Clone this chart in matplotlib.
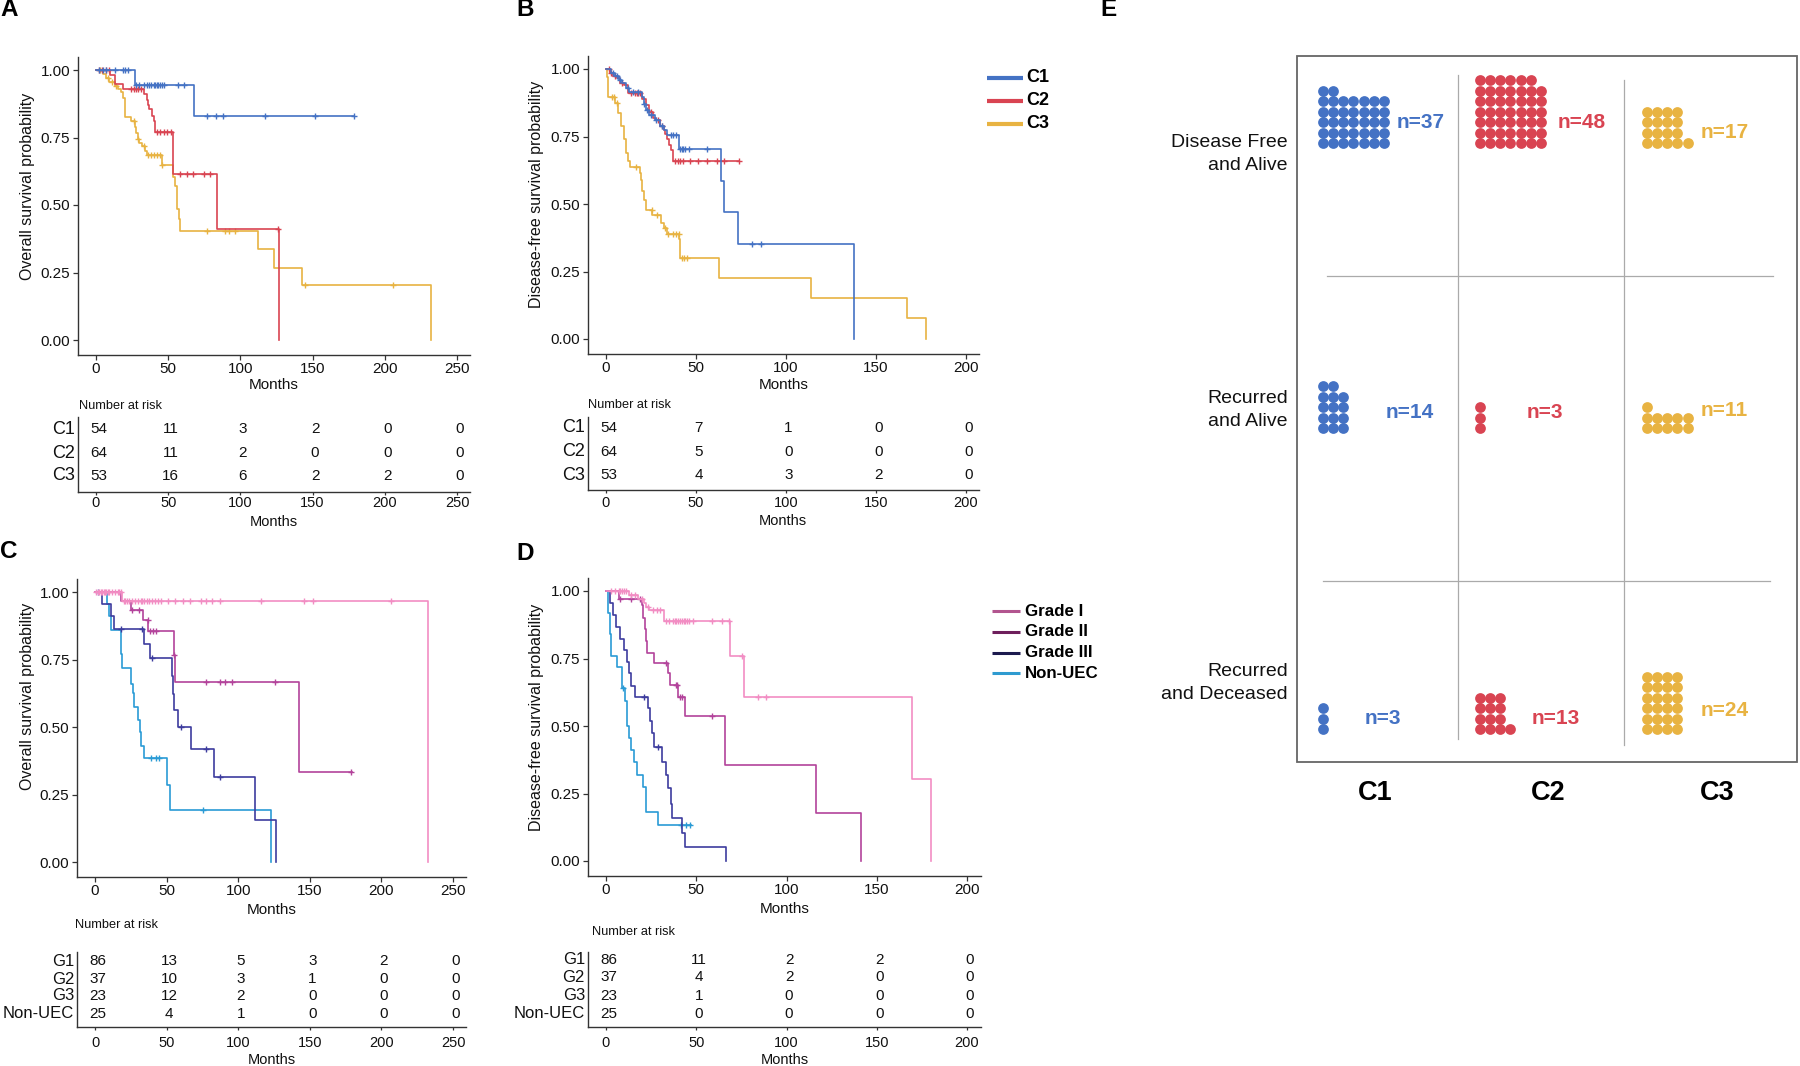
import numpy as np
import matplotlib.pyplot as plt
from matplotlib.patches import Rectangle

plt.rcParams['font.family'] = ['Liberation Sans', 'DejaVu Sans']

W, H = 1800, 1066

# ---------------- data ----------------
clusters = ['C1', 'C2', 'C3']
grades = ['Grade I', 'Grade II', 'Grade III', 'Non-UEC']
grade_rows = ['G1', 'G2', 'G3', 'Non-UEC']

# each curve: step times, survival after the step, last follow-up, censor times
# A - overall survival by cluster
os_c1_t = [0, 27, 68]
os_c1_s = [1, 0.946, 0.831]
os_c1_end = 179
os_c1_cens = [2, 5, 7, 13, 19, 20, 22, 28, 30, 33, 35, 37, 38, 40, 41, 42, 43, 44, 46, 47,
              57, 61, 77, 83, 88, 117, 152, 179]

os_c2_t = [0, 10, 13, 19, 33, 35, 36, 37, 39, 40, 41, 53.5, 83.5, 126.5]
os_c2_s = [1, 0.983, 0.95, 0.93, 0.91, 0.89, 0.87, 0.855, 0.83, 0.81, 0.771, 0.614, 0.41, 0]
os_c2_end = 126.5
os_c2_cens = [2, 4, 7, 9, 24, 26, 28, 29, 31, 42, 44, 47, 49, 52, 58, 63, 67, 75, 79, 126]

os_c3_t = [0, 4.7, 7, 9.3, 12.9, 15, 17.5, 19, 20, 24.5, 27, 28, 29, 30, 32, 34, 35, 45.6,
           53.3, 55, 56, 57.2, 58.4, 112, 123.4, 142.5, 231.8]
os_c3_s = [1, 0.985, 0.97, 0.955, 0.94, 0.93, 0.92, 0.895, 0.825, 0.81, 0.79, 0.765, 0.745,
           0.73, 0.72, 0.70, 0.685, 0.65, 0.602, 0.57, 0.485, 0.45, 0.404, 0.336, 0.268, 0.203, 0]
os_c3_end = 231.8
os_c3_cens = [3, 8, 11, 14, 26, 29, 33, 36, 38, 40, 42, 44, 46, 77, 89, 92, 96, 145, 206]

# B - disease-free survival by cluster
dfs_c1_t = [0, 3, 5, 7, 9, 11, 13, 20, 21, 22, 24, 27, 30, 32, 34, 40.3, 63.7, 65.5, 73.6, 138]
dfs_c1_s = [1, 0.985, 0.975, 0.96, 0.95, 0.93, 0.915, 0.895, 0.87, 0.85, 0.83, 0.81, 0.79,
            0.775, 0.755, 0.705, 0.584, 0.47, 0.352, 0]
dfs_c1_end = 138
dfs_c1_cens = [4, 6, 8, 12, 15, 18, 21, 23, 25, 28, 31, 36, 37, 39, 41, 42, 43, 44, 46, 56, 81, 86]

dfs_c2_t = [0, 2, 4, 6, 8, 10, 12, 20, 22, 24, 26, 28, 30, 32, 33, 34, 35, 36, 37.4]
dfs_c2_s = [1, 0.985, 0.975, 0.965, 0.95, 0.94, 0.91, 0.89, 0.865, 0.84, 0.82, 0.81, 0.79,
            0.775, 0.76, 0.74, 0.72, 0.70, 0.658]
dfs_c2_end = 74
dfs_c2_cens = [1.5, 3, 5, 9, 14, 16, 17, 18, 19, 25, 29, 31, 38.5, 40, 41, 43, 46.6, 51, 56,
               61.5, 65.5, 74]

dfs_c3_t = [0, 0.5, 1, 5, 6.6, 8.4, 9.9, 11, 12, 13.2, 18.7, 19.3, 20.2, 21, 22, 25.5, 30.8,
            32, 34, 40.7, 41.3, 63, 113.8, 167, 177.6]
dfs_c3_s = [1, 0.97, 0.896, 0.875, 0.837, 0.788, 0.74, 0.69, 0.658, 0.637, 0.615, 0.59, 0.55,
            0.515, 0.479, 0.46, 0.43, 0.41, 0.389, 0.37, 0.30, 0.226, 0.151, 0.078, 0]
dfs_c3_end = 177.6
dfs_c3_cens = [3.3, 4.4, 6, 16.5, 25.3, 28.6, 33, 34.7, 37.4, 39, 40.5, 42, 43.5, 45]

# C - overall survival by grade
os_g1_t = [0, 19, 232.4]
os_g1_s = [1, 0.967, 0]
os_g1_end = 232.4
os_g1_cens = [1, 2, 3, 4, 5, 6, 7, 8, 9, 10, 12, 14, 16, 17, 18, 20, 21, 22, 24, 26, 28, 30,
              32, 33, 34, 36, 38, 40, 42, 44, 46, 51, 56, 61.5, 66, 74, 77.5, 82, 87, 116,
              146, 152, 207]

os_g2_t = [0, 18, 25, 33.3, 37.3, 55, 56.2, 142.2]
os_g2_s = [1, 0.967, 0.935, 0.895, 0.856, 0.766, 0.667, 0.335]
os_g2_end = 179.5
os_g2_cens = [26, 31, 36.8, 38.7, 40.3, 42.6, 55.5, 77.8, 87.2, 91, 95.4, 125.8, 179]

os_g3_t = [0, 5, 11, 13.4, 34.4, 38.7, 53.7, 54.4, 55, 58, 66.8, 83, 111.8, 126.3]
os_g3_s = [1, 0.954, 0.91, 0.862, 0.809, 0.754, 0.688, 0.624, 0.563, 0.501, 0.417, 0.313, 0.156, 0]
os_g3_end = 126.3
os_g3_cens = [18, 33, 39.6, 60, 77.8, 87]

os_nu_t = [0, 8.2, 9.8, 11, 18, 18.5, 19.2, 25, 26.2, 27.4, 29.8, 31.6, 32.1, 34, 50.4, 52.7, 123]
os_nu_s = [1, 0.955, 0.91, 0.861, 0.815, 0.77, 0.719, 0.661, 0.625, 0.575, 0.526, 0.48, 0.431,
           0.384, 0.286, 0.193, 0]
os_nu_end = 123
os_nu_cens = [2, 39, 42.6, 45, 75.4]

# D - disease-free survival by grade
dfs_g1_t = [0, 12.5, 18, 21, 22, 24, 32.3, 68.6, 76.7, 169.7, 180.2]
dfs_g1_s = [1, 0.985, 0.97, 0.955, 0.94, 0.93, 0.889, 0.76, 0.606, 0.304, 0]
dfs_g1_end = 180.2
dfs_g1_cens = [3, 5, 7, 8, 9, 10, 11, 14, 16, 20, 23, 26, 28, 30, 33, 35, 37, 38, 39, 40, 41,
               42, 43, 44, 45, 46, 48, 58.7, 64, 68, 75.6, 84, 88.8]

dfs_g2_t = [0, 7, 19.8, 20.7, 21.4, 22, 22.9, 26.8, 34.5, 35.2, 40, 43.7, 65.9, 116.3, 141]
dfs_g2_s = [1, 0.97, 0.95, 0.90, 0.86, 0.815, 0.772, 0.735, 0.695, 0.653, 0.606, 0.538, 0.357,
            0.179, 0]
dfs_g2_end = 141
dfs_g2_cens = [8, 13.6, 19, 33.4, 38.9, 39.6, 41, 42, 58.7]

dfs_g3_t = [0, 2.2, 3.7, 5.3, 7.5, 9.7, 11.4, 12.5, 13.6, 16.3, 23.5, 24.6, 25.7, 26.4, 31.2,
            33.4, 34.5, 36, 36.7, 42.2, 43.7, 66.4]
dfs_g3_s = [1, 0.954, 0.91, 0.865, 0.824, 0.78, 0.738, 0.695, 0.649, 0.606, 0.565, 0.52, 0.475,
            0.421, 0.368, 0.32, 0.27, 0.21, 0.159, 0.105, 0.053, 0]
dfs_g3_end = 66.4
dfs_g3_cens = [21.3, 29]

dfs_nu_t = [0, 1, 2, 3, 5.9, 8.8, 10.3, 11.4, 12.5, 13.6, 15.4, 16.9, 20.7, 22.4, 28.6]
dfs_nu_s = [1, 0.92, 0.84, 0.76, 0.72, 0.64, 0.591, 0.501, 0.455, 0.411, 0.366, 0.319, 0.273,
            0.181, 0.135]
dfs_nu_end = 47
dfs_nu_cens = [9.2, 41.8, 44.4, 46.6]

# numbers at risk
risk_times_250 = [0, 50, 100, 150, 200, 250]
risk_times_200 = [0, 50, 100, 150, 200]
risk_A = [[54, 11, 3, 2, 0, 0], [64, 11, 2, 0, 0, 0], [53, 16, 6, 2, 2, 0]]
risk_B = [[54, 7, 1, 0, 0], [64, 5, 0, 0, 0], [53, 4, 3, 2, 0]]
risk_C = [[86, 13, 5, 3, 2, 0], [37, 10, 3, 1, 0, 0], [23, 12, 2, 0, 0, 0], [25, 4, 1, 0, 0, 0]]
risk_D = [[86, 11, 2, 2, 0], [37, 4, 2, 0, 0], [23, 1, 0, 0, 0], [25, 0, 0, 0, 0]]

# E - patients per outcome and cluster
e_states = ['Disease Free\nand Alive', 'Recurred\nand Alive', 'Recurred\nand Deceased']
e_counts = [[37, 48, 17], [14, 3, 11], [3, 13, 24]]

# ---------------- style ----------------
clu_colors = ['#4472C4', '#D94452', '#E8B342']
grade_colors = ['#F28DC3', '#B3439B', '#3D3C9E', '#2A9BD5']
grade_legend_colors = ['#B2558F', '#6E1F5C', '#1C1A4E', '#2E9BD0']
axis_col = '#333333'
PT = 100 / 72  # pixels per point

fig = plt.figure(figsize=(18, 10.66), dpi=100)

ov = fig.add_axes([0, 0, 1, 1])
ov.set_xlim(0, W)
ov.set_ylim(H, 0)
ov.axis('off')


def add_px_axes(left, top, right, bottom):
    return fig.add_axes([left / W, 1 - bottom / H, (right - left) / W, (bottom - top) / H])


def style_axes(ax):
    for s in ['top', 'right']:
        ax.spines[s].set_visible(False)
    for s in ['left', 'bottom']:
        ax.spines[s].set_color(axis_col)
        ax.spines[s].set_linewidth(1.0)
    ax.tick_params(colors=axis_col, labelcolor='#111111', length=3.5, width=0.9,
                   labelsize=11, pad=2)
    ax.set_facecolor('none')


def km_panel(x0, xm, xmax, y1, y0, xlim, curves, colors, ylabel, ylab_xy, xlab_y):
    sx = (xm - x0) / xmax
    sy = (y0 - y1)
    ylim = (-0.055, 1.05)
    left, right = x0 + xlim[0] * sx, x0 + xlim[1] * sx
    top, bottom = y0 - ylim[1] * sy, y0 - ylim[0] * sy
    ax = add_px_axes(left, top, right, bottom)
    style_axes(ax)
    for (t, s, end, cens), col in list(zip(curves, colors))[::-1]:
        t = np.asarray(t, float)
        s = np.asarray(s, float)
        ax.step(np.r_[t, end], np.r_[s, s[-1]], where='post', color=col, lw=1.2)
        c = np.asarray(cens, float)
        cy = s[np.searchsorted(t, c, side='right') - 1]
        ax.plot(c, cy, ls='none', marker='+', ms=5, mew=1.0, color=col)
    ax.set_xlim(*xlim)
    ax.set_ylim(*ylim)
    ax.set_xticks(np.arange(0, xmax + 1, 50))
    ax.set_yticks([0, 0.25, 0.5, 0.75, 1.0])
    ax.set_yticklabels(['0.00', '0.25', '0.50', '0.75', '1.00'])
    ax.set_ylabel(ylabel, fontsize=11.5, color='#111111')
    ax.yaxis.label.set_va('center')
    ax.yaxis.set_label_coords((ylab_xy[0] - left) / (right - left),
                              (bottom - ylab_xy[1]) / (bottom - top))
    ax.set_xlabel('Months', fontsize=11, color='#111111')
    ax.xaxis.label.set_va('center')
    ax.xaxis.set_label_coords(0.5, (bottom - xlab_y) / (bottom - top))
    return ax, sx


def risk_table(x0, sx, xlim, xmax, top, bottom, rows_y, labels, values, times,
               lab_size, val_size, title_xy, ticklab_y, xlab_y):
    left, right = x0 + xlim[0] * sx, x0 + xlim[1] * sx
    ax = add_px_axes(left, top, right, bottom)
    style_axes(ax)
    ax.set_xlim(*xlim)
    ax.set_ylim(bottom, top)
    ax.set_yticks([])
    ax.set_xticks(np.arange(0, xmax + 1, 50))
    pad_pt = max(0.0, (ticklab_y - bottom - 3.5 - 7.0) / PT)
    ax.tick_params(axis='x', labelsize=10.5, length=2.5, pad=pad_pt)
    for lab, y, row in zip(labels, rows_y, values):
        ax.text(xlim[0] - 3 / sx, y, lab, ha='right', va='center',
                fontsize=lab_size, color='#111111')
        for tm, v in zip(times, row):
            ax.text(tm + 2.5 / sx, y, str(v), ha='center', va='center', fontsize=val_size,
                    color='#111111')
    ax.set_xlabel('Months', fontsize=10.5, color='#111111')
    ax.xaxis.label.set_va('center')
    ax.xaxis.set_label_coords(0.5, (bottom - xlab_y) / (bottom - top))
    ov.text(title_xy[0], title_xy[1], 'Number at risk', ha='left', va='center',
            fontsize=9.2, color='#111111')
    return ax


# ---- A ----
curves_A = [(os_c1_t, os_c1_s, os_c1_end, os_c1_cens),
            (os_c2_t, os_c2_s, os_c2_end, os_c2_cens),
            (os_c3_t, os_c3_s, os_c3_end, os_c3_cens)]
axA, sxA = km_panel(96, 457, 250, 70, 340, (-12.5, 259), curves_A, clu_colors,
                    'Overall survival probability', (28, 186), 385)
risk_table(96, sxA, (-12.5, 259), 250, 417, 492, [429, 453, 476], clusters, risk_A,
           risk_times_250, 13, 11, (79, 406), 503, 522)

# ---- B ----
curves_B = [(dfs_c1_t, dfs_c1_s, dfs_c1_end, dfs_c1_cens),
            (dfs_c2_t, dfs_c2_s, dfs_c2_end, dfs_c2_cens),
            (dfs_c3_t, dfs_c3_s, dfs_c3_end, dfs_c3_cens)]
axB, sxB = km_panel(606, 966, 200, 69, 339, (-10, 207), curves_B, clu_colors,
                    'Disease-free survival probability', (536, 194), 385)
risk_table(606, sxB, (-10, 207), 200, 417, 490, [428, 452, 475], clusters, risk_B,
           risk_times_200, 13, 11, (588, 405), 503, 521)

for i, (lab, col) in enumerate(zip(clusters, clu_colors)):
    y = 78 + i * 22.8
    ov.plot([987, 1023], [y, y], color=col, lw=3.0, solid_capstyle='butt')
    ov.text(1026, y, lab, ha='left', va='center', fontsize=13, fontweight='bold')

# ---- C ----
curves_C = [(os_g1_t, os_g1_s, os_g1_end, os_g1_cens),
            (os_g2_t, os_g2_s, os_g2_end, os_g2_cens),
            (os_g3_t, os_g3_s, os_g3_end, os_g3_cens),
            (os_nu_t, os_nu_s, os_nu_end, os_nu_cens)]
axC, sxC = km_panel(95, 453, 250, 592, 862, (-12.5, 259), curves_C, grade_colors,
                    'Overall survival probability', (28, 696), 910)
risk_table(95, sxC, (-12.5, 259), 250, 952, 1027, [961, 979, 996, 1014], grade_rows, risk_C,
           risk_times_250, 12, 11, (75, 925), 1043, 1060)

# ---- D ----
curves_D = [(dfs_g1_t, dfs_g1_s, dfs_g1_end, dfs_g1_cens),
            (dfs_g2_t, dfs_g2_s, dfs_g2_end, dfs_g2_cens),
            (dfs_g3_t, dfs_g3_s, dfs_g3_end, dfs_g3_cens),
            (dfs_nu_t, dfs_nu_s, dfs_nu_end, dfs_nu_cens)]
axD, sxD = km_panel(606, 967, 200, 591, 861, (-10, 208), curves_D, grade_colors,
                    'Disease-free survival probability', (536, 717), 909)
risk_table(606, sxD, (-10, 208), 200, 952, 1027, [960, 977, 996, 1014], grade_rows, risk_D,
           risk_times_200, 12, 11, (592, 932), 1043, 1060)

for i, (lab, col) in enumerate(zip(grades, grade_legend_colors)):
    y = 611 + i * 20.8
    ov.plot([992, 1020], [y, y], color=col, lw=2.2, solid_capstyle='butt')
    ov.text(1025, y, lab, ha='left', va='center', fontsize=12.2, fontweight='bold')

# ---- E : dot pictogram ----
e_shape = [[('row', 7), ('row', 7), ('col', 4)],
           [('row', 3), ('col', 3), ('row', 5)],
           [('col', 3), ('col', 4), ('row', 4)]]
e_col_x = [1323, 1480, 1647]
e_row_y = [143, 428, 729]
e_lab_x = [[1397, 1558, 1701], [1386, 1527, 1701], [1365, 1532, 1701]]
e_lab_y = [[122, 122, 132], [412, 412, 411], [718, 718, 711]]
dx, dy = 10.15, 10.5

ov.add_patch(Rectangle((1297, 56), 500, 706, fill=False, edgecolor='#666666', lw=1.3))
ov.plot([1458, 1458], [75, 739], color='#aaaaaa', lw=0.9)
ov.plot([1624, 1624], [80, 745], color='#aaaaaa', lw=0.9)
ov.plot([1327, 1773], [276, 276], color='#aaaaaa', lw=0.9)
ov.plot([1323, 1770], [581, 581], color='#aaaaaa', lw=0.9)

for r, state in enumerate(e_states):
    for c in range(3):
        n = e_counts[r][c]
        mode, k = e_shape[r][c]
        cells = []
        if mode == 'row':
            for i in range(n):
                cells.append((i % k, i // k))
        else:
            for i in range(n):
                cells.append((i // k, i % k))
        gx = np.array([p[0] for p in cells])
        gy = np.array([p[1] for p in cells])
        ov.scatter(e_col_x[c] + gx * dx, e_row_y[r] - gy * dy, s=60, color=clu_colors[c],
                   linewidths=0)
        ov.text(e_lab_x[r][c], e_lab_y[r][c], f'n={n}', ha='left', va='center',
                fontsize=15, fontweight='bold', color=clu_colors[c])

for state, y in zip(e_states, [154, 410, 683]):
    ov.text(1288, y, state, ha='right', va='center', fontsize=14, color='#111111',
            linespacing=1.45)
for lab, x in zip(clusters, [1375, 1548, 1717]):
    ov.text(x, 793, lab, ha='center', va='center', fontsize=19.5, fontweight='bold')

# panel letters
for lab, x, y in [('A', 9, 9), ('B', 525, 9), ('C', 9, 552), ('D', 525, 554), ('E', 1109, 9)]:
    ov.text(x, y, lab, ha='center', va='center', fontsize=17.5, fontweight='bold')

fig.savefig('out.png', dpi=100)
